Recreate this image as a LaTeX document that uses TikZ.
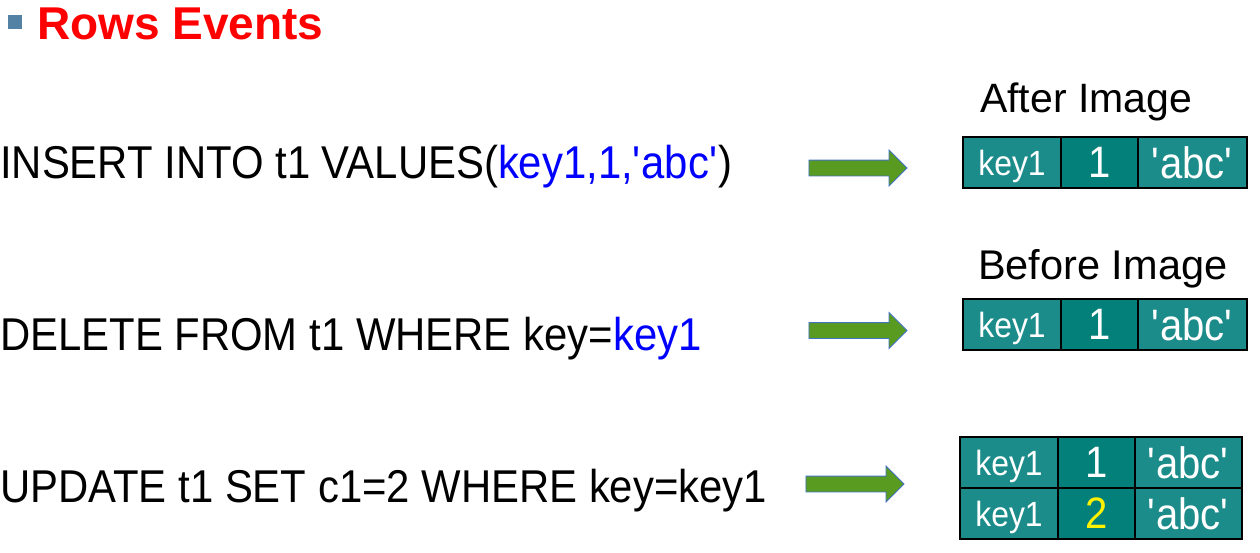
\documentclass[tikz,border=0pt]{standalone}
\usepackage{fontspec}
\setmainfont{Liberation Sans}
\newfontfamily\narrowsans{Liberation Sans}[FakeStretch=0.91]
\usetikzlibrary{positioning,shapes.arrows}

\definecolor{keyteal}{RGB}{27,140,138}
\definecolor{valteal}{RGB}{4,128,122}
\definecolor{arrowgreen}{RGB}{88,155,32}
\definecolor{arrowline}{RGB}{68,114,196}
\definecolor{bulletblue}{RGB}{84,130,165}
\definecolor{sqlblue}{RGB}{0,0,255}
\newcommand{\fs}[1]{\fontsize{#1}{#1}\selectfont}
\newcommand{\sq}{\textquotesingle}

\begin{document}
\begin{tikzpicture}[x=1pt, y=-1pt,
  cell/.style = {draw=black, line width=1.5pt, text=white, inner sep=0pt, outer sep=0pt,
                 minimum height=51pt, text depth=0pt, anchor=north west, font=\narrowsans},
  bigarrow/.style = {single arrow, draw=arrowline, fill=arrowgreen, line width=0.8pt,
                     minimum height=98pt, minimum width=35pt, inner xsep=0pt, inner ysep=7.5pt,
                     single arrow head extend=10pt, single arrow head indent=0pt},
  sql/.style = {anchor=base west, inner sep=0pt, font=\narrowsans}
]
  \useasboundingbox (0,0) rectangle (1260,552);

  \node[fill=bulletblue, minimum size=14pt, inner sep=0pt] (bullet) at (14.5,22) {};
  \node[anchor=base west, inner sep=0pt, text=red] (title) at (37,39) {\fs{46}\bfseries Rows Events};

  \node[sql] (insert) at (0,178) {\fs{46}INSERT INTO t1 VALUES(\textcolor{sqlblue}{key1,1,\sq abc\sq})};
  \node[sql] (delete) at (0,350) {\fs{46}DELETE FROM t1 WHERE key=\textcolor{sqlblue}{key1}};
  \node[sql] (update) at (0,502) {\fs{46}UPDATE t1 SET c1=2 WHERE key=key1};

  \node[anchor=base west, inner sep=0pt] (after) at (980,112) {\fs{41}After Image};
  \node[anchor=base west, inner sep=0pt] (before) at (978,279) {\fs{41.5}Before Image};

  \node[bigarrow] (insarrow) at (854,168) {};
  \node[bigarrow] (delarrow) at (854,330.5) {};
  \node[bigarrow] (updarrow) at (851,484) {};

  % one table row per entry
  \foreach \n/\x/\y/\v/\c/\w in {ins/963/137/1/white/109,
                                 del/963/299/1/white/109,
                                 upa/960/437/1/white/107,
                                 upb/960/488/2/yellow/107}{
    \node[cell, fill=keyteal, minimum width=98pt] (\n-key) at (\x,\y) {\fs{35}key1};
    \node[cell, fill=valteal, minimum width=77pt, right=0pt of \n-key, text=\c] (\n-val) {\fs{44}\v};
    \node[cell, fill=keyteal, minimum width=\w pt, right=0pt of \n-val] (\n-str) {\fs{44}\sq abc\sq};
  }
\end{tikzpicture}
\end{document}
